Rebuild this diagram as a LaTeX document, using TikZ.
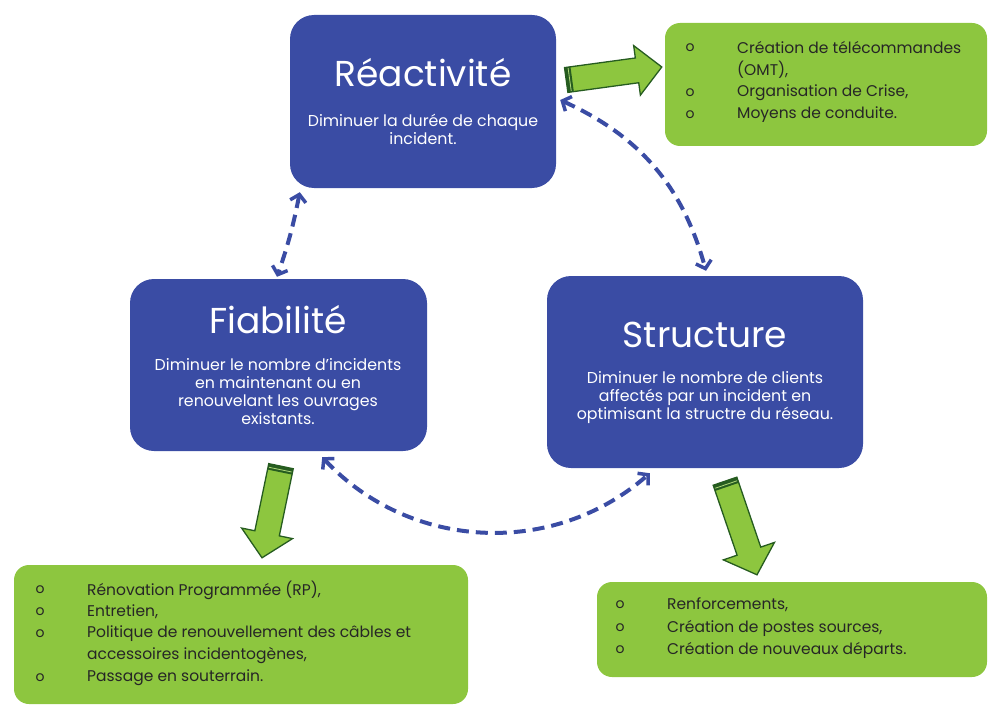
\documentclass[tikz,border=0pt]{standalone}
\usepackage{fontspec}
\setmainfont{Poppins}
\usetikzlibrary{arrows.meta,calc}
\definecolor{bleu}{RGB}{58,76,164}
\definecolor{vert}{RGB}{141,198,63}
\definecolor{vertfonce}{RGB}{38,92,32}
\definecolor{texte}{RGB}{38,38,38}
\newcommand{\vertfleche}[3]{% tail, tip, half head width
  \coordinate (vfh) at ($(#2)!25pt!(#1)$);
  \coordinate (vfs) at ($(#1)!6pt!(#2)$);
  \coordinate (vfm) at ($(#1)!3.5pt!(#2)$);
  \filldraw[fill=vert, draw=vertfonce, line width=1.3pt, line join=miter]
    ($(#1)!12.5pt!90:(#2)$) -- ($(vfh)!12.5pt!90:(#2)$) -- ($(vfh)!#3!90:(#2)$) -- (#2)
    -- ($(vfh)!#3!-90:(#2)$) -- ($(vfh)!12.5pt!-90:(#2)$) -- ($(#1)!12.5pt!-90:(#2)$) -- cycle;
  \fill[vertfonce] ($(#1)!12.5pt!90:(#2)$) -- ($(vfs)!12.5pt!90:(#2)$) -- ($(vfs)!12.5pt!-90:(#2)$) -- ($(#1)!12.5pt!-90:(#2)$) -- cycle;
  \draw[vert!70!white, line width=0.8pt] ($(vfm)!11.5pt!90:(#2)$) -- ($(vfm)!11.5pt!-90:(#2)$);
}
\begin{document}
\begin{tikzpicture}[x=1pt,y=-1pt,
  bluebox/.style={fill=bleu, rounded corners=24pt, inner sep=0pt},
  greenbox/.style={fill=vert, rounded corners=15pt, inner sep=0pt},
  titre/.style={text=white, inner sep=0pt, font=\fontsize{36}{40}\selectfont},
  desc/.style={text=white, inner sep=0pt, align=center, font=\fontsize{15.8}{18}\selectfont},
  item/.style={text=texte, inner sep=0pt, anchor=west, font=\fontsize{15.5}{22}\selectfont},
  puce/.style={text=texte, inner sep=0pt, font=\fontsize{14}{22}\selectfont},
  lien/.style={draw=bleu, line width=4pt, dash pattern=on 12pt off 7pt,
    {Straight Barb[length=7pt,width=16pt,line width=3.5pt]}-{Straight Barb[length=7pt,width=16pt,line width=3.5pt]}}
]
\useasboundingbox (0,0) rectangle (988,706);
% blue boxes
\node[bluebox, minimum width=266pt, minimum height=173pt] (react) at (423,101.5) {};
\node[bluebox, minimum width=297pt, minimum height=172pt] (fiab) at (278.5,365) {};
\node[bluebox, minimum width=316pt, minimum height=192pt] (struct) at (705,372) {};
\node[titre] (reactT) at (423,73) {Réactivité};
\node[desc] (reactD) at (423,129) {Diminuer la durée de chaque\\incident.};
\node[titre] (fiabT) at (278,320) {Fiabilité};
\node[desc] (fiabD) at (278,392) {Diminuer le nombre d’incidents\\en maintenant ou en\\renouvelant les ouvrages\\existants.};
\node[titre] (structT) at (705,335) {Structure};
\node[desc] (structD) at (705,398) {Diminuer le nombre de clients\\affectés par un incident en\\optimisant la structre du réseau.};
% green boxes
\node[greenbox, minimum width=322pt, minimum height=123pt] (g1) at (826,84.5) {};
\node[greenbox, minimum width=454pt, minimum height=139pt] (g2) at (241,634.5) {};
\node[greenbox, minimum width=390pt, minimum height=95pt] (g3) at (792,629.5) {};
% items g1
\node[puce] (p11) at (690,48) {o};
\node[item] (t11) at (737,48) {Création de télécommandes};
\node[item] (t12) at (737,70) {(OMT),};
\node[puce] (p12) at (690,93) {o};
\node[item] (t13) at (737,93) {Organisation de Crise,};
\node[puce] (p13) at (690,115) {o};
\node[item] (t14) at (737,115) {Moyens de conduite.};
% items g2
\node[puce] (p21) at (40,590) {o};
\node[item] (t21) at (87,590) {Rénovation Programmée (RP),};
\node[puce] (p22) at (40,612) {o};
\node[item] (t22) at (87,612) {Entretien,};
\node[puce] (p23) at (40,634) {o};
\node[item] (t23) at (87,634) {Politique de renouvellement des câbles et};
\node[item] (t24) at (87,656) {accessoires incidentogènes,};
\node[puce] (p25) at (40,678) {o};
\node[item] (t25) at (87,678) {Passage en souterrain.};
% items g3
\node[puce] (p31) at (620,605) {o};
\node[item] (t31) at (667,605) {Renforcements,};
\node[puce] (p32) at (620,628) {o};
\node[item] (t32) at (667,628) {Création de postes sources,};
\node[puce] (p33) at (620,650) {o};
\node[item] (t33) at (667,650) {Création de nouveaux départs.};
% green block arrows
\coordinate (a1q) at ([shift={(10,-21.5)}]react.east);
\coordinate (a1t) at ([shift={(-3,-17.5)}]g1.west);
\coordinate (a2q) at ([shift={(2.5,15)}]fiab.south);
\coordinate (a2t) at ([shift={(21,-7)}]g2.north);
\coordinate (a3q) at ([shift={(20,13)}]struct.south);
\coordinate (a3t) at ([shift={(-35,-7)}]g3.north);
\vertfleche{a1q}{a1t}{25pt}
\vertfleche{a2q}{a2t}{26pt}
\vertfleche{a3q}{a3t}{27pt}
% dashed links
\coordinate (r1) at ([shift={(10,4)}]react.south west);
\coordinate (f1) at ([shift={(-1.5,-2)}]fiab.north);
\coordinate (r2) at ([shift={(4,-1.5)}]react.east);
\coordinate (s2) at ([shift={(1,-5)}]struct.north);
\coordinate (f3) at ([shift={(-105,6)}]fiab.south east);
\coordinate (s3) at ([shift={(103,5)}]struct.south west);
\draw[lien] (r1) to[bend left=4] (f1);
\draw[lien] (r2) to[bend left=25] (s2);
\draw[lien] (f3) to[bend right=44] (s3);
\end{tikzpicture}
\end{document}
